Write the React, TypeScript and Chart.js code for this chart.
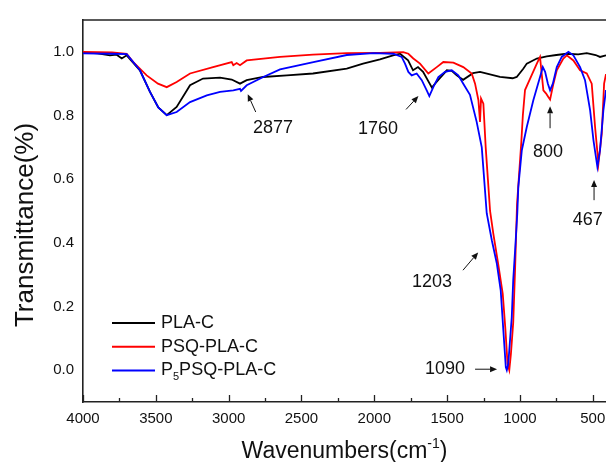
import { useEffect, useRef } from "react";
import { Chart, registerables } from "chart.js";

Chart.register(...registerables);

const FONT = "'Liberation Sans', Arial, Helvetica, sans-serif";

const seriesNames = ["PLA-C", "PSQ-PLA-C", "P₅PSQ-PLA-C"];
const seriesColors = ["#000000", "#ff0000", "#0000ff"];

// PLA-C (black)
const plaWavenumbers = [4000, 3900, 3815, 3769, 3734, 3700, 3609, 3540, 3483, 3425, 3357, 3265, 3176, 3059, 2979, 2922, 2876, 2764, 2600, 2421, 2189, 2077, 1961, 1871, 1823, 1768, 1734, 1700, 1665, 1605, 1562, 1502, 1468, 1434, 1390, 1322, 1274, 1137, 1050, 1022, 977, 953, 884, 816, 750, 678, 600, 541, 480, 450, 409];
const plaTransmittance = [0.998, 0.995, 0.989, 0.991, 0.979, 0.989, 0.942, 0.874, 0.825, 0.801, 0.827, 0.895, 0.916, 0.919, 0.913, 0.9, 0.911, 0.921, 0.926, 0.932, 0.947, 0.963, 0.976, 0.989, 0.994, 0.973, 0.942, 0.952, 0.937, 0.888, 0.911, 0.942, 0.94, 0.926, 0.912, 0.933, 0.937, 0.921, 0.917, 0.921, 0.947, 0.963, 0.979, 0.986, 0.99, 0.994, 0.992, 0.996, 0.99, 0.984, 0.989];

// PSQ-PLA-C (red)
const psqWavenumbers = [4000, 3800, 3700, 3655, 3563, 3485, 3425, 3357, 3265, 3107, 2979, 2968, 2945, 2922, 2876, 2647, 2421, 2189, 1961, 1801, 1766, 1732, 1686, 1629, 1571, 1526, 1457, 1389, 1331, 1308, 1285, 1274, 1267, 1251, 1235, 1220, 1205, 1183, 1148, 1118, 1100, 1085, 1073, 1062, 1046, 1033, 1020, 1005, 990, 980, 965, 930, 884, 862, 839, 820, 805, 793, 770, 747, 702, 678, 633, 587, 541, 507, 484, 461, 438, 422, 409];
const psqTransmittance = [1.0, 0.998, 0.994, 0.968, 0.926, 0.9, 0.889, 0.905, 0.932, 0.952, 0.968, 0.958, 0.965, 0.958, 0.973, 0.984, 0.991, 0.996, 0.997, 0.999, 0.994, 0.979, 0.963, 0.932, 0.952, 0.968, 0.966, 0.952, 0.932, 0.9, 0.848, 0.78, 0.853, 0.837, 0.7, 0.6, 0.5, 0.43, 0.33, 0.24, 0.13, 0.02, 0.0, 0.05, 0.15, 0.32, 0.52, 0.62, 0.72, 0.8, 0.88, 0.916, 0.963, 0.984, 0.879, 0.869, 0.858, 0.85, 0.9, 0.942, 0.979, 0.989, 0.973, 0.942, 0.932, 0.9, 0.764, 0.649, 0.743, 0.9, 0.93];

// P5PSQ-PLA-C (blue)
const p5Wavenumbers = [4000, 3800, 3700, 3609, 3540, 3483, 3425, 3357, 3265, 3150, 3059, 2968, 2922, 2915, 2876, 2762, 2647, 2418, 2189, 2007, 1869, 1812, 1789, 1766, 1743, 1709, 1674, 1640, 1622, 1594, 1560, 1514, 1468, 1423, 1389, 1343, 1297, 1262, 1228, 1193, 1159, 1132, 1114, 1097, 1090, 1080, 1068, 1056, 1046, 1033, 1018, 1011, 987, 953, 908, 862, 843, 827, 808, 793, 774, 747, 713, 667, 633, 587, 553, 518, 495, 468, 450, 427, 409];
const p5Transmittance = [0.995, 0.994, 0.993, 0.942, 0.874, 0.825, 0.801, 0.811, 0.842, 0.863, 0.874, 0.879, 0.884, 0.877, 0.895, 0.921, 0.945, 0.968, 0.99, 0.996, 0.994, 0.984, 0.963, 0.937, 0.926, 0.932, 0.911, 0.879, 0.861, 0.89, 0.921, 0.937, 0.942, 0.926, 0.9, 0.865, 0.78, 0.7, 0.493, 0.408, 0.336, 0.251, 0.126, 0.01, 0.0, 0.02, 0.094, 0.167, 0.283, 0.377, 0.493, 0.576, 0.691, 0.764, 0.848, 0.921, 0.952, 0.937, 0.9, 0.879, 0.9, 0.952, 0.984, 1.0, 0.989, 0.952, 0.911, 0.816, 0.722, 0.638, 0.691, 0.816, 0.88];

const xTickValues = [4000, 3500, 3000, 2500, 2000, 1500, 1000, 500];
const xMinorTickValues = [3750, 3250, 2750, 2250, 1750, 1250, 750];
const yTickValues = [0, 0.2, 0.4, 0.6, 0.8, 1.0];
const xAxisMin = 409;
const xAxisMax = 4000;
const yAxisMin = -0.1;
const yAxisMax = 1.1;

const xTitleMain = "Wavenumbers(cm";
const xTitleSup = "-1";
const xTitleEnd = ")";
const yTitle = "Transmittance(%)";

// peak annotations (data coordinates)
const annotationTexts = ["2877", "1760", "1203", "1090", "800", "467"];
const annotationTextX = [2695, 1974, 1603, 1514, 807, 534];
const annotationTextY = [0.76, 0.757, 0.276, 0.003, 0.684, 0.471];
const arrowFromX = [2814, 1782, 1391, 1308, 793, 491];
const arrowFromY = [0.811, 0.819, 0.314, 0.003, 0.76, 0.534];
const arrowToX = [2869, 1697, 1287, 1157, 793, 491];
const arrowToY = [0.867, 0.861, 0.37, 0.003, 0.829, 0.597];

const toPoints = (xs: number[], ys: number[]) => xs.map((x, i) => ({ x, y: ys[i] }));

const framePlugin = {
  id: "frameTicks",
  afterDraw(chart: any) {
    const { ctx, chartArea: a, scales } = chart;
    const xs = scales.x;
    ctx.save();
    ctx.strokeStyle = "#222";
    ctx.lineWidth = 1.6;
    ctx.beginPath();
    ctx.moveTo(a.left - 0.8, a.top);
    ctx.lineTo(a.right, a.top);
    ctx.stroke();
    ctx.lineWidth = 1.3;
    ctx.beginPath();
    for (const v of xTickValues) {
      const px = Math.round(xs.getPixelForValue(v)) + 0.5;
      ctx.moveTo(px, a.bottom);
      ctx.lineTo(px, a.bottom - 7);
    }
    for (const v of xMinorTickValues) {
      const px = Math.round(xs.getPixelForValue(v)) + 0.5;
      ctx.moveTo(px, a.bottom);
      ctx.lineTo(px, a.bottom - 4);
    }
    ctx.stroke();
    ctx.restore();
  },
};

const annotationPlugin = {
  id: "peakNotes",
  afterDatasetsDraw(chart: any) {
    const { ctx, scales } = chart;
    const xs = scales.x;
    const ys = scales.y;
    ctx.save();
    ctx.fillStyle = "#111";
    ctx.strokeStyle = "#111";
    ctx.lineWidth = 1;
    ctx.font = `18px ${FONT}`;
    ctx.textAlign = "center";
    ctx.textBaseline = "middle";
    annotationTexts.forEach((t, i) => {
      ctx.fillText(t, xs.getPixelForValue(annotationTextX[i]), ys.getPixelForValue(annotationTextY[i]));
      const x0 = xs.getPixelForValue(arrowFromX[i]);
      const y0 = ys.getPixelForValue(arrowFromY[i]);
      const x1 = xs.getPixelForValue(arrowToX[i]);
      const y1 = ys.getPixelForValue(arrowToY[i]);
      const ang = Math.atan2(y1 - y0, x1 - x0);
      const len = 7;
      const hw = 3;
      const bx = x1 - len * Math.cos(ang);
      const by = y1 - len * Math.sin(ang);
      ctx.beginPath();
      ctx.moveTo(x0, y0);
      ctx.lineTo(bx, by);
      ctx.stroke();
      ctx.beginPath();
      ctx.moveTo(x1, y1);
      ctx.lineTo(bx + hw * Math.sin(ang), by - hw * Math.cos(ang));
      ctx.lineTo(bx - hw * Math.sin(ang), by + hw * Math.cos(ang));
      ctx.closePath();
      ctx.fill();
    });
    ctx.restore();
  },
};

const subMap: Record<string, string> = { "₀": "0", "₁": "1", "₂": "2", "₃": "3", "₄": "4", "₅": "5", "₆": "6", "₇": "7", "₈": "8", "₉": "9" };

const legendPlugin = {
  id: "innerLegend",
  afterDraw(chart: any) {
    const { ctx, chartArea: a } = chart;
    ctx.save();
    const size = 18;
    seriesNames.forEach((name, i) => {
      const y = a.top + 303 + i * 23.7;
      ctx.strokeStyle = seriesColors[i];
      ctx.lineWidth = 2;
      ctx.beginPath();
      ctx.moveTo(a.left + 29, y);
      ctx.lineTo(a.left + 72, y);
      ctx.stroke();
      let x = a.left + 78;
      ctx.fillStyle = "#111";
      ctx.textAlign = "left";
      ctx.textBaseline = "middle";
      for (const ch of Array.from(name)) {
        if (subMap[ch]) {
          ctx.font = `${Math.round(size * 0.6)}px ${FONT}`;
          ctx.fillText(subMap[ch], x, y + size * 0.38);
          x += ctx.measureText(subMap[ch]).width;
        } else {
          ctx.font = `${size}px ${FONT}`;
          ctx.fillText(ch, x, y);
          x += ctx.measureText(ch).width;
        }
      }
    });
    ctx.restore();
  },
};

const titlePlugin = {
  id: "axisTitles",
  afterDraw(chart: any) {
    const { ctx, chartArea: a } = chart;
    ctx.save();
    ctx.fillStyle = "#111";
    ctx.textBaseline = "alphabetic";
    ctx.textAlign = "left";
    const big = 23;
    const sup = 14;
    ctx.font = `${big}px ${FONT}`;
    const w1 = ctx.measureText(xTitleMain).width;
    const w3 = ctx.measureText(xTitleEnd).width;
    ctx.font = `${sup}px ${FONT}`;
    const w2 = ctx.measureText(xTitleSup).width;
    const total = w1 + w2 + w3;
    let x = (a.left + a.right) / 2 - total / 2;
    const base = a.bottom + 56;
    ctx.font = `${big}px ${FONT}`;
    ctx.fillText(xTitleMain, x, base);
    x += w1;
    ctx.font = `${sup}px ${FONT}`;
    ctx.fillText(xTitleSup, x, base - 10);
    x += w2;
    ctx.font = `${big}px ${FONT}`;
    ctx.fillText(xTitleEnd, x, base);

    ctx.translate(a.left - 50, (a.top + a.bottom) / 2 + 14);
    ctx.rotate(-Math.PI / 2);
    ctx.textAlign = "center";
    ctx.font = `26px ${FONT}`;
    ctx.fillText(yTitle, 0, 0);
    ctx.restore();
  },
};

export default function App() {
  const ref = useRef<HTMLCanvasElement>(null);
  useEffect(() => {
    const canvas = ref.current;
    if (!canvas) return;
    const xsData = [plaWavenumbers, psqWavenumbers, p5Wavenumbers];
    const ysData = [plaTransmittance, psqTransmittance, p5Transmittance];
    const chart = new Chart(canvas, {
      type: "line",
      data: {
        datasets: seriesNames.map((name, i) => ({
          label: name,
          data: toPoints(xsData[i], ysData[i]),
          borderColor: seriesColors[i],
          backgroundColor: seriesColors[i],
          borderWidth: 1.8,
          pointRadius: 0,
          tension: 0,
          fill: false,
          order: 3 - i,
        })),
      },
      options: {
        animation: false,
        responsive: false,
        events: [],
        layout: { padding: { top: 20, right: 0, left: 0, bottom: 0 } },
        plugins: { legend: { display: false }, tooltip: { enabled: false }, title: { display: false } },
        scales: {
          x: {
            type: "linear",
            reverse: true,
            min: xAxisMin,
            max: xAxisMax,
            afterBuildTicks: (s: any) => {
              s.ticks = xTickValues.map((v) => ({ value: v }));
            },
            afterFit: (s: any) => {
              s.height = 60;
              s.paddingLeft = 0;
              s.paddingRight = 0;
            },
            grid: { display: false, drawTicks: false },
            border: { display: true, color: "#222", width: 1.6 },
            ticks: {
              autoSkip: false,
              maxRotation: 0,
              padding: 8,
              color: "#111",
              font: { family: FONT, size: 15 },
              callback: (v: any) => String(v),
            },
          },
          y: {
            type: "linear",
            min: yAxisMin,
            max: yAxisMax,
            afterBuildTicks: (s: any) => {
              s.ticks = yTickValues.map((v) => ({ value: v }));
            },
            afterFit: (s: any) => {
              s.width = 83;
              s.paddingTop = 0;
              s.paddingBottom = 0;
            },
            grid: { display: false, drawTicks: false },
            border: { display: true, color: "#222", width: 1.6 },
            ticks: {
              padding: 9,
              color: "#111",
              font: { family: FONT, size: 15 },
              callback: (v: any) => Number(v).toFixed(1),
            },
          },
        },
      },
      plugins: [framePlugin, annotationPlugin, legendPlugin, titlePlugin],
    } as any);
    return () => chart.destroy();
  }, []);
  return (
    <div style={{ position: "fixed", left: 0, top: 0, width: 606, height: 462, background: "#fff" }}>
      <canvas ref={ref} width={606} height={462} style={{ display: "block", width: 606, height: 462 }} />
    </div>
  );
}
